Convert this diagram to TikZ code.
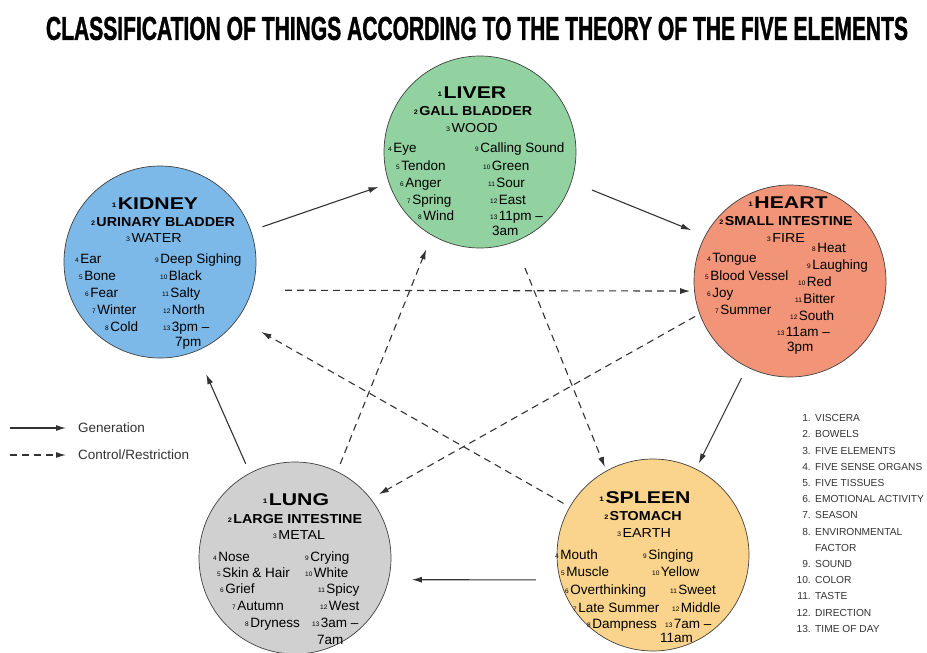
\documentclass[tikz,border=0pt]{standalone}
\usepackage{fontspec}
\setmainfont{Liberation Sans}
\newfontfamily\headfont[FakeStretch=1.25]{Liberation Sans}
\newfontfamily\subfont[FakeStretch=1.1]{Liberation Sans}
\newfontfamily\titlefont[FakeBold=1.6]{Liberation Sans Bold}
\usetikzlibrary{arrows.meta}

\definecolor{woodgreen}{RGB}{146,210,160}
\definecolor{firered}{RGB}{242,148,120}
\definecolor{earthyellow}{RGB}{250,212,140}
\definecolor{metalgray}{RGB}{208,208,208}
\definecolor{waterblue}{RGB}{125,185,232}

\newcommand{\nr}[1]{\raisebox{1.5pt}{\fontsize{6.5}{6.5}\selectfont#1}\kern1.5pt}

\tikzset{
  orb/.style={circle, draw=black!75, line width=0.7pt, minimum size=192pt, inner sep=0pt},
  viscus/.style={inner sep=0pt, font=\headfont\bfseries\fontsize{17}{17}\selectfont, text height=12.2pt, text depth=0pt},
  bowel/.style={inner sep=0pt, font=\subfont\bfseries\fontsize{13}{13}\selectfont, text height=9.3pt, text depth=0pt},
  phase/.style={inner sep=0pt, font=\subfont\fontsize{13}{13}\selectfont, text height=9.3pt, text depth=0pt},
  attr/.style={anchor=west, inner sep=0pt, font=\fontsize{13.5}{14}\selectfont, text height=9.7pt, text depth=0pt},
  gen/.style={-{Latex[length=10pt,width=6pt]}, line width=1.1pt, draw=black!80},
  ctl/.style={gen, dash pattern=on 7pt off 5pt},
  legend/.style={anchor=west, inner sep=0pt, font=\fontsize{13.5}{14}\selectfont, text=black!80},
  keynum/.style={anchor=east, inner sep=0pt, font=\fontsize{10.2}{11}\selectfont, text=black!80, text height=7.4pt, text depth=0pt},
  keytxt/.style={anchor=west, inner sep=0pt, font=\fontsize{10.2}{11}\selectfont, text=black!80, text height=7.4pt, text depth=0pt}
}

\begin{document}
\begin{tikzpicture}[x=1pt,y=-1pt]
\useasboundingbox (0,0) rectangle (927,653);

\node[inner sep=0pt] (title) at (477,28.5) {\resizebox{862pt}{23pt}{\titlefont CLASSIFICATION OF THINGS ACCORDING TO THE THEORY OF THE FIVE ELEMENTS}};

% the five organs
\node[orb, fill=woodgreen] (liver) at (480,152) {};
\node[orb, fill=firered] (heart) at (790,281) {};
\node[orb, fill=earthyellow] (spleen) at (653,555) {};
\node[orb, fill=metalgray] (lung) at (295,558) {};
\node[orb, fill=waterblue] (kidney) at (160,262) {};

% liver
\node[viscus] (lv1) at (472,92) {\nr{1}LIVER};
\node[bowel] (lv2) at (473,111) {\nr{2}GALL BLADDER};
\node[phase] (lv3) at (472,128) {\nr{3}WOOD};
\foreach \k/\x/\y/\txt in {4/388/148/Eye,5/396/166/Tendon,6/400/183/Anger,7/407/200/Spring,8/418/216/Wind,
  9/475/148/Calling Sound,10/483/166/Green,11/488/183/Sour,12/490/200/East,13/490/216/11pm –}
  \node[attr] (lv\k) at (\x,\y) {\nr{\k}\txt};
\node[attr] (lv14) at (492,231) {3am};

% kidney
\node[viscus] (kd1) at (155,203) {\nr{1}KIDNEY};
\node[bowel] (kd2) at (163,222) {\nr{2}URINARY BLADDER};
\node[phase] (kd3) at (154,238) {\nr{3}WATER};
\foreach \k/\x/\y/\txt in {4/75/259/Ear,5/79/276/Bone,6/85/293/Fear,7/92/310/Winter,8/105/327/Cold,
  9/155/259/Deep Sighing,10/160/276/Black,11/162/293/Salty,12/163/310/North,13/163/327/3pm –}
  \node[attr] (kd\k) at (\x,\y) {\nr{\k}\txt};
\node[attr] (kd14) at (175,342) {7pm};

% heart
\node[viscus] (ht1) at (788,202) {\nr{1}HEART};
\node[bowel] (ht2) at (786,221) {\nr{2}SMALL INTESTINE};
\node[phase] (ht3) at (786,238) {\nr{3}FIRE};
\foreach \k/\x/\y/\txt in {4/707/258/Tongue,5/705/276/Blood Vessel,6/707/293/Joy,7/715/310/Summer,
  8/812/248/Heat,9/807/265/Laughing,10/798/282/Red,11/795/299/Bitter,12/790/316/South,13/777/332/11am –}
  \node[attr] (ht\k) at (\x,\y) {\nr{\k}\txt};
\node[attr] (ht14) at (787,347) {3pm};

% lung
\node[viscus] (lg1) at (296,499) {\nr{1}LUNG};
\node[bowel] (lg2) at (295,519) {\nr{2}LARGE INTESTINE};
\node[phase] (lg3) at (299,535) {\nr{3}METAL};
\foreach \k/\x/\y/\txt in {4/213/557/Nose,5/217/573/Skin \& Hair,6/220/589/Grief,7/232/606/Autumn,8/245/623/Dryness,
  9/305/557/Crying,10/305/573/White,11/318/589/Spicy,12/320/606/West,13/312/623/3am –}
  \node[attr] (lg\k) at (\x,\y) {\nr{\k}\txt};
\node[attr] (lg14) at (317,640) {7am};

% spleen
\node[viscus] (sp1) at (645,497) {\nr{1}SPLEEN};
\node[bowel] (sp2) at (643,516) {\nr{2}STOMACH};
\node[phase] (sp3) at (644,533) {\nr{3}EARTH};
\foreach \k/\x/\y/\txt in {4/555/555/Mouth,5/561/572/Muscle,6/565/590/Overthinking,7/573/608/Late Summer,8/587/624/Dampness,
  9/643/555/Singing,10/652/572/Yellow,11/670/590/Sweet,12/672/608/Middle,13/665/624/7am –}
  \node[attr] (sp\k) at (\x,\y) {\nr{\k}\txt};
\node[attr] (sp14) at (660,638) {11am};

% generation
\draw[gen, shorten <=12pt, shorten >=11pt] (kidney) -- (liver);
\draw[gen, shorten <=22pt, shorten >=15pt] (liver.-18) -- (heart.152);
\draw[gen, shorten <=12pt, shorten >=6pt] (heart) -- (spleen);
\draw[gen, shorten <=24pt, shorten >=23pt] (spleen.195) -- (lung.-13);
\draw[gen, shorten <=10pt, shorten >=25pt] (lung.118) -- (kidney.-68);

% control
\draw[ctl, shorten <=33pt, shorten >=4pt] (kidney.-17) -- (heart.186);
\draw[ctl, shorten <=5pt, shorten >=9pt] (heart.200) -- (lung.38);
\draw[ctl, shorten <=8pt, shorten >=15pt] (lung.64) -- (liver.240);
\draw[ctl, shorten <=28pt, shorten >=4pt] (liver.291) -- (spleen.119);
\draw[ctl, shorten <=7pt, shorten >=27pt] (spleen.150) -- (kidney.-36);

% legend
\coordinate (g0) at (10,428);
\coordinate (g1) at (66,428);
\draw[gen] (g0) -- (g1);
\node[legend] (gtext) at (78,428) {Generation};
\coordinate (c0) at (10,455);
\coordinate (c1) at (66,455);
\draw[ctl] (c0) -- (c1);
\node[legend] (ctext) at (78,455) {Control/Restriction};

\foreach \k/\y/\txt in {1/418/VISCERA,2/434.2/BOWELS,3/450.4/FIVE ELEMENTS,4/466.6/FIVE SENSE ORGANS,
  5/482.8/FIVE TISSUES,6/499/EMOTIONAL ACTIVITY,7/515.2/SEASON,8/531.4/ENVIRONMENTAL,
  9/563.8/SOUND,10/580/COLOR,11/596.2/TASTE,12/612.4/DIRECTION,13/628.6/TIME OF DAY}{
  \node[keynum] (kn\k) at (811,\y) {\k.};
  \node[keytxt] (kt\k) at (815,\y) {\txt};
}
\node[keytxt] (kt14) at (815,547.6) {FACTOR};
\end{tikzpicture}
\end{document}
